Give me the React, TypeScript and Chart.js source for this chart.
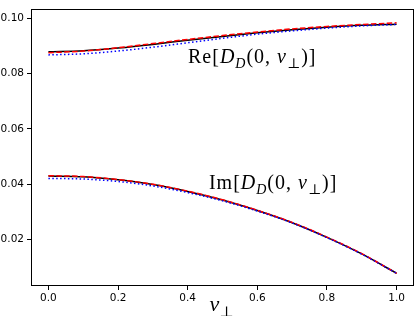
import React, { useEffect, useRef } from "react";
import { Chart, registerables } from "chart.js";

Chart.register(...registerables);

const vPerp = [0.0, 0.1, 0.2, 0.3, 0.4, 0.5, 0.6, 0.7, 0.8, 0.9, 1.0];

const reBlack = [0.0879, 0.0883, 0.0893, 0.0906, 0.0921, 0.0935, 0.0948, 0.0959, 0.0968, 0.0975, 0.0979];
const reRed = [0.0876, 0.0882, 0.0894, 0.0909, 0.0924, 0.0938, 0.0951, 0.0962, 0.0971, 0.0978, 0.0984];
const reBlue = [0.0868, 0.0872, 0.0882, 0.0896, 0.0912, 0.0928, 0.0943, 0.0955, 0.0965, 0.0973, 0.0978];

const imBlack = [0.0430, 0.0427, 0.0416, 0.0399, 0.0374, 0.0343, 0.0305, 0.0261, 0.0208, 0.0148, 0.0078];
const imRed = [0.0431, 0.0428, 0.0417, 0.0400, 0.0375, 0.0344, 0.0306, 0.0262, 0.0209, 0.0149, 0.0078];
const imBlue = [0.0421, 0.0419, 0.0410, 0.0394, 0.0370, 0.0340, 0.0303, 0.0260, 0.0207, 0.0147, 0.0078];

const xTicks = [0.0, 0.2, 0.4, 0.6, 0.8, 1.0];
const yTicks = [0.02, 0.04, 0.06, 0.08, 0.10];

type Part = { t: string; i?: boolean; sub?: boolean };

const reLabel: Part[] = [
  { t: "Re[" },
  { t: "D", i: true },
  { t: "D", i: true, sub: true },
  { t: "(0, " },
  { t: "v", i: true },
  { t: "⊥", sub: true },
  { t: ")]" },
];
const imLabel: Part[] = [
  { t: "Im[" },
  { t: "D", i: true },
  { t: "D", i: true, sub: true },
  { t: "(0, " },
  { t: "v", i: true },
  { t: "⊥", sub: true },
  { t: ")]" },
];
const xLabel: Part[] = [
  { t: "v", i: true },
  { t: "⊥", sub: true },
];

function pts(ys: number[]) {
  return vPerp.map((x, k) => ({ x, y: ys[k] }));
}

function drawMath(
  ctx: CanvasRenderingContext2D,
  parts: Part[],
  x: number,
  y: number,
  size: number,
  align: "left" | "center",
  spacing: number
) {
  const fam = '"Liberation Serif", "DejaVu Serif", serif';
  const fontOf = (p: Part) => `${p.i ? "italic " : ""}${p.sub ? size * 0.7 : size}px ${fam}`;
  ctx.save();
  (ctx as any).letterSpacing = `${spacing}px`;
  let total = 0;
  const widths = parts.map((p) => {
    ctx.font = fontOf(p);
    const w = ctx.measureText(p.t).width;
    total += w;
    return w;
  });
  let cx = align === "center" ? x - total / 2 : x;
  ctx.fillStyle = "#000";
  ctx.textBaseline = "alphabetic";
  ctx.textAlign = "left";
  parts.forEach((p, k) => {
    ctx.font = fontOf(p);
    ctx.fillText(p.t, cx, p.sub ? y + size * 0.25 : y);
    cx += widths[k];
  });
  ctx.restore();
}

const annotPlugin = {
  id: "annot",
  afterDraw(chart: any) {
    const ctx: CanvasRenderingContext2D = chart.ctx;
    const { left, right, top, bottom } = chart.chartArea;
    const xs = chart.scales.x;
    const ys = chart.scales.y;
    ctx.save();
    ctx.strokeStyle = "#000";
    ctx.lineWidth = 1;
    ctx.strokeRect(Math.round(left) + 0.5, Math.round(top) + 0.5, Math.round(right - left) - 1, Math.round(bottom - top) - 1);
    ctx.restore();
    drawMath(ctx, reLabel, xs.getPixelForValue(0.401), ys.getPixelForValue(0.0837), 20, "left", 1);
    drawMath(ctx, imLabel, xs.getPixelForValue(0.461), ys.getPixelForValue(0.0382), 20, "left", 1);
    drawMath(ctx, xLabel, (left + right) / 2 - 1, 311, 22, "center", 0);
  },
};

export default function App() {
  const ref = useRef<HTMLCanvasElement>(null);
  useEffect(() => {
    document.body.style.margin = "0";
    const tickFont = { family: '"DejaVu Sans", sans-serif', size: 10.5 };
    const common = { pointRadius: 0, borderWidth: 1.5, fill: false, cubicInterpolationMode: "monotone" as const };
    const chart = new Chart(ref.current!, {
      type: "line",
      data: {
        datasets: [
          { ...common, data: pts(reBlack), borderColor: "#000000", order: 2 },
          { ...common, data: pts(reRed), borderColor: "#ff0000", borderDash: [5.5, 2.4], order: 1 },
          { ...common, data: pts(reBlue), borderColor: "#0000ff", borderDash: [1.5, 2.4], order: 0 },
          { ...common, data: pts(imBlack), borderColor: "#000000", order: 2 },
          { ...common, data: pts(imRed), borderColor: "#ff0000", borderDash: [5.5, 2.4], order: 1 },
          { ...common, data: pts(imBlue), borderColor: "#0000ff", borderDash: [1.5, 2.4], order: 0 },
        ],
      },
      options: {
        responsive: false,
        animation: false,
        layout: { padding: { left: 0, right: 1, top: 0, bottom: 0 } },
        plugins: { legend: { display: false }, tooltip: { enabled: false } },
        scales: {
          x: {
            type: "linear",
            min: -0.05,
            max: 1.05,
            afterBuildTicks: (s: any) => {
              s.ticks = xTicks.map((v) => ({ value: v }));
            },
            afterFit: (s: any) => {
              s.height = 30;
            },
            ticks: {
              color: "#000",
              font: tickFont,
              padding: 2,
              maxRotation: 0,
              callback: (v: any) => Number(v).toFixed(1),
            },
            grid: { display: true, drawOnChartArea: false, drawTicks: true, tickLength: 4, tickColor: "#000" },
            border: { display: false },
          },
          y: {
            type: "linear",
            min: 0.0032,
            max: 0.1033,
            afterBuildTicks: (s: any) => {
              s.ticks = yTicks.map((v) => ({ value: v }));
            },
            afterFit: (s: any) => {
              s.width = 31;
            },
            ticks: {
              color: "#000",
              font: tickFont,
              padding: 3,
              callback: (v: any) => Number(v).toFixed(2),
            },
            grid: { display: true, drawOnChartArea: false, drawTicks: true, tickLength: 4, tickColor: "#000" },
            border: { display: false },
          },
        },
      },
      plugins: [annotPlugin],
    });
    return () => chart.destroy();
  }, []);
  return <canvas ref={ref} width={415} height={316} style={{ display: "block" }} />;
}
